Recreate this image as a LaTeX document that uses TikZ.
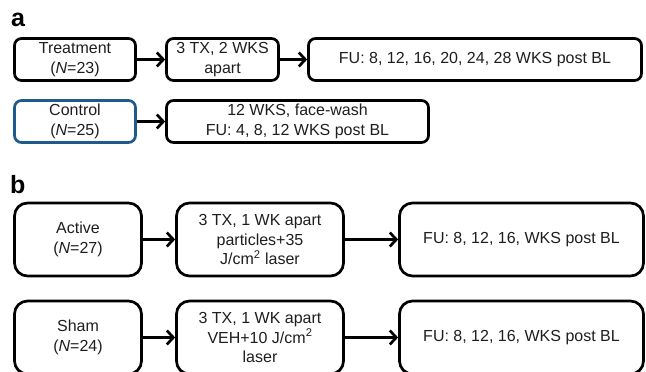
\documentclass[tikz,border=0pt]{standalone}
\usepackage{fontspec}
\setmainfont{Liberation Sans}
\usetikzlibrary{arrows.meta}
\definecolor{txt}{RGB}{30,30,30}
\definecolor{ctrlblue}{RGB}{30,90,140}
\begin{document}
\begin{tikzpicture}[x=1pt,y=-1pt,
 boxa/.style={draw=black, line width=2.7pt, rounded corners=7pt, align=center, text=txt, font=\fontsize{16}{20}\selectfont, inner sep=0pt},
 boxb/.style={boxa, rounded corners=13pt, font=\fontsize{16}{19.5}\selectfont},
 arr/.style={line width=2.7pt, -{Straight Barb[length=6.5pt,width=14pt]}},
 lbl/.style={font=\fontsize{25}{25}\selectfont\bfseries, text=black, anchor=base west, inner sep=0pt}]
\useasboundingbox (0,0) rectangle (646,372);
\clip (0,0) rectangle (646,372);
% panel a
\node[lbl] (la) at (11,27) {a};
\node[boxa, minimum width=121pt, minimum height=42pt] (treat) at (75,59.5) {Treatment\\(\textit{N}=23)};
\node[boxa, minimum width=112pt, minimum height=42pt] (tx) at (222.5,59.5) {3 TX, 2 WKS\\apart};
\node[boxa, minimum width=333pt, minimum height=42pt] (fu) at (475,59.5) {FU: 8, 12, 16, 20, 24, 28 WKS post BL};
\node[boxa, draw=ctrlblue, minimum width=121pt, minimum height=42pt] (ctrl) at (75,121.5) {Control\\(\textit{N}=25)};
\node[boxa, minimum width=262pt, minimum height=42pt] (wash) at (297.5,121.5) {12 WKS, face-wash\\FU: 4, 8, 12 WKS post BL};
\draw[arr] (treat.east) -- (tx.west);
\draw[arr] (tx.east) -- (fu.west);
\draw[arr] (ctrl.east) -- (wash.west);
% panel b
\node[lbl] (lb) at (10,193) {b};
\node[boxb, minimum width=127pt, minimum height=73pt] (act) at (78,239.5) {Active\\(\textit{N}=27)};
\node[boxb, minimum width=167pt, minimum height=73pt] (acttx) at (260,239.5) {3 TX, 1 WK apart\\particles+35\\J/cm\textsuperscript{2} laser};
\node[boxb, minimum width=244pt, minimum height=73pt] (actfu) at (521.5,239.5) {FU: 8, 12, 16, WKS post BL};
\node[boxb, minimum width=127pt, minimum height=73pt] (sham) at (78,337.5) {Sham\\(\textit{N}=24)};
\node[boxb, minimum width=167pt, minimum height=73pt] (shamtx) at (260,337.5) {3 TX, 1 WK apart\\VEH+10 J/cm\textsuperscript{2}\\laser};
\node[boxb, minimum width=244pt, minimum height=73pt] (shamfu) at (521.5,337.5) {FU: 8, 12, 16, WKS post BL};
\draw[arr] (act.east) -- (acttx.west);
\draw[arr] (acttx.east) -- (actfu.west);
\draw[arr] (sham.east) -- (shamtx.west);
\draw[arr] (shamtx.east) -- (shamfu.west);
\end{tikzpicture}
\end{document}
